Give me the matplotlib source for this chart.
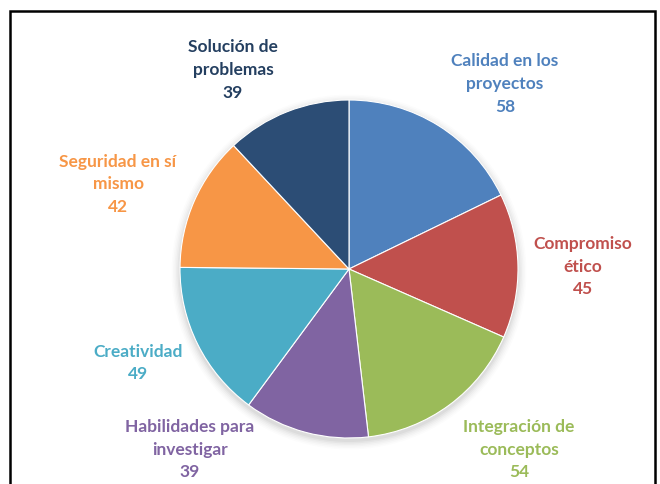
import numpy as np
import matplotlib
matplotlib.use("Agg")
import matplotlib.pyplot as plt
from matplotlib.patches import Rectangle, Circle

labels = ["Calidad en los\nproyectos", "Compromiso\nético", "Integración de\nconceptos",
          "Habilidades para\ninvestigar", "Creatividad", "Seguridad en sí\nmismo",
          "Solución de\nproblemas"]
values = [58, 45, 54, 39, 49, 42, 39]
colors = ["#4F81BD", "#C0504D", "#9BBB59", "#8064A2", "#4BACC6", "#F79646", "#2C4D75"]
text_colors = ["#4F81BD", "#C0504D", "#9BBB59", "#8064A2", "#4BACC6", "#F79646", "#243F60"]
# label centres in pixels (x, y from top)
label_pos = [(505, 84), (583, 267), (519, 450), (190, 450), (138, 363), (118, 184), (233, 70)]

W, H = 660, 485
fig = plt.figure(figsize=(W / 100, H / 100), dpi=100)
ax = fig.add_axes([0, 0, 1, 1])

cx, cy, r = 349, H - 270, 169

# soft shadow under the pie
for i, a in enumerate(np.linspace(0.035, 0.01, 6)):
    ax.add_patch(Circle((cx, cy - 3), r + 1 + i * 1.5, color="black", alpha=a, lw=0, zorder=0))

ax.pie(values, colors=colors, startangle=90, counterclock=False,
       center=(cx, cy), radius=r, frame=True,
       wedgeprops=dict(edgecolor="white", linewidth=0.8))
ax.set_xlim(0, W)
ax.set_ylim(0, H)
ax.set_aspect("equal")
ax.axis("off")

for lab, val, col, (px, py) in zip(labels, values, text_colors, label_pos):
    ax.text(px, H - py, f"{lab}\n{val}", ha="center", va="center", color=col,
            fontsize=12.5, fontweight="bold", family="Lato", linespacing=1.5)

# frame around the chart
fig.patches.append(Rectangle((10 / W, -0.1), (655 - 10) / W, 1.1 - 12 / H,
                             transform=fig.transFigure, fill=False,
                             edgecolor="black", linewidth=1.8))

fig.savefig("out.png", dpi=100)
